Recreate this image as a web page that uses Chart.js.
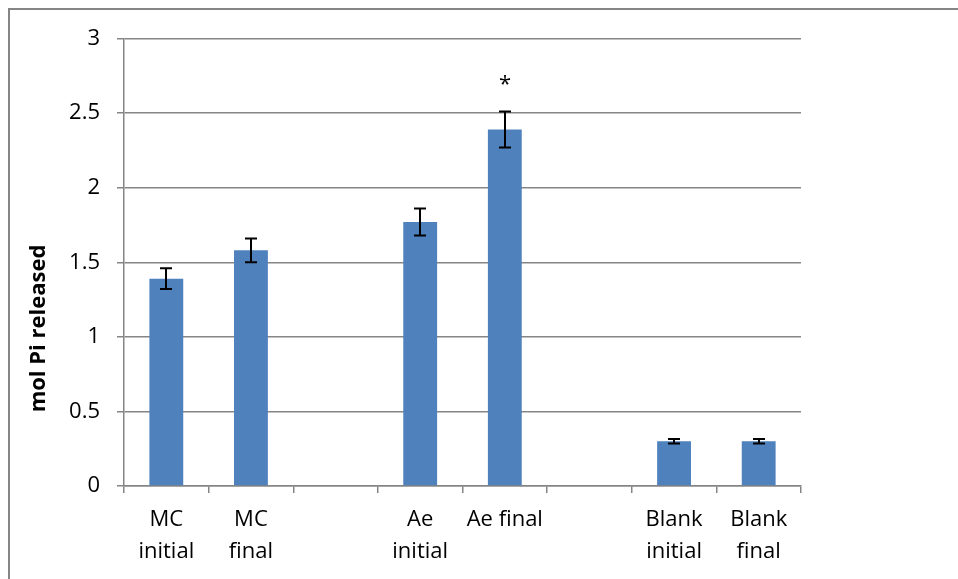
<!DOCTYPE html>
<html>
<head>
<meta charset="utf-8">
<script src="https://cdn.jsdelivr.net/npm/chart.js@4/dist/chart.umd.min.js"></script>
<style>
  html, body { margin: 0; padding: 0; background: #ffffff; }
  #wrap { width: 958px; height: 579px; }
</style>
</head>
<body>
<div id="wrap"><canvas id="c" width="958" height="579"></canvas></div>
<script>
// Phosphate release per sample (mean with error)
const categories = [
  ['MC', 'initial'], ['MC', 'final'], '',
  ['Ae', 'initial'], 'Ae final', '',
  ['Blank', 'initial'], ['Blank', 'final']
];
const released = [1.39, 1.58, null, 1.77, 2.39, null, 0.30, 0.30];
const errors   = [0.07, 0.08, null, 0.09, 0.12, null, 0.015, 0.015];
const significance = ['', '', '', '', '*', '', '', ''];
const yTicks = [0, 0.5, 1, 1.5, 2, 2.5, 3];
const yTitle = 'mol Pi released';

const GRAY = '#858585';
const FONT = "'Open Sans', 'DejaVu Sans', sans-serif";

// Frame around the figure and the rotated axis title
const framePlugin = {
  id: 'frame',
  beforeDraw(chart) {
    const ctx = chart.ctx;
    ctx.save();
    ctx.fillStyle = '#ffffff';
    ctx.fillRect(0, 0, chart.width, chart.height);
    ctx.strokeStyle = GRAY;
    ctx.lineWidth = 2;
    ctx.beginPath();
    ctx.moveTo(9, chart.height);
    ctx.lineTo(9, 9);
    ctx.lineTo(chart.width, 9);
    ctx.stroke();
    ctx.restore();
  },
  afterDraw(chart) {
    const ctx = chart.ctx;
    ctx.save();
    ctx.fillStyle = '#000000';
    ctx.font = "bold 22px " + FONT;
    ctx.textAlign = 'center';
    ctx.textBaseline = 'alphabetic';
    ctx.translate(45, 328.5);
    ctx.rotate(-Math.PI / 2);
    ctx.fillText(yTitle, 0, 0);
    ctx.restore();
  }
};

// Error bars with caps, plus significance markers above them
const errorBarPlugin = {
  id: 'errorBars',
  afterDatasetsDraw(chart) {
    const ctx = chart.ctx;
    const x = chart.scales.x, y = chart.scales.y;
    ctx.save();
    ctx.strokeStyle = '#000000';
    ctx.lineWidth = 2;
    released.forEach((v, i) => {
      if (v === null || errors[i] === null) return;
      const px = Math.round(x.getPixelForValue(i));
      const top = y.getPixelForValue(v + errors[i]);
      const bot = y.getPixelForValue(v - errors[i]);
      ctx.beginPath();
      ctx.moveTo(px, top); ctx.lineTo(px, bot);
      ctx.moveTo(px - 6, top); ctx.lineTo(px + 6, top);
      ctx.moveTo(px - 6, bot); ctx.lineTo(px + 6, bot);
      ctx.stroke();
      if (significance[i]) {
        ctx.fillStyle = '#000000';
        ctx.font = "22px " + FONT;
        ctx.textAlign = 'center';
        ctx.textBaseline = 'alphabetic';
        const m = ctx.measureText(significance[i]);
        const cy = top - 32;
        ctx.fillText(significance[i], px, cy + (m.actualBoundingBoxAscent - m.actualBoundingBoxDescent) / 2);
      }
    });
    ctx.restore();
  }
};

new Chart(document.getElementById('c'), {
  type: 'bar',
  data: {
    labels: categories,
    datasets: [{
      data: released,
      backgroundColor: '#4F81BD',
      borderWidth: 0,
      barPercentage: 0.4,
      categoryPercentage: 1.0
    }]
  },
  options: {
    responsive: false,
    animation: false,
    events: [],
    layout: { padding: { left: 0, top: 38.5, right: 157, bottom: 0 } },
    plugins: { legend: { display: false }, tooltip: { enabled: false } },
    scales: {
      x: {
        offset: true,
        grid: { display: true, drawOnChartArea: false, drawTicks: true, tickLength: 7, color: GRAY, offset: true, lineWidth: 1.5 },
        border: { display: true, color: GRAY, width: 1.5 },
        ticks: {
          autoSkip: false, maxRotation: 0, minRotation: 0, padding: 11, color: '#000000',
          font: { family: FONT, size: 22, lineHeight: 32 / 22 }
        },
        afterFit(s) { s.height = 93; s.paddingLeft = 0; s.paddingRight = 0; }
      },
      y: {
        min: 0, max: 3,
        afterBuildTicks(s) { s.ticks = yTicks.map(v => ({ value: v })); },
        grid: { color: GRAY, lineWidth: 1.5, drawTicks: true, tickLength: 7 },
        border: { display: true, color: GRAY, width: 1.5 },
        ticks: {
          padding: 17, color: '#000000',
          font: { family: FONT, size: 22 },
          callback: v => String(v)
        },
        afterFit(s) { s.width = 124; s.paddingTop = 0; s.paddingBottom = 0; }
      }
    }
  },
  plugins: [framePlugin, errorBarPlugin]
});
</script>
</body>
</html>
